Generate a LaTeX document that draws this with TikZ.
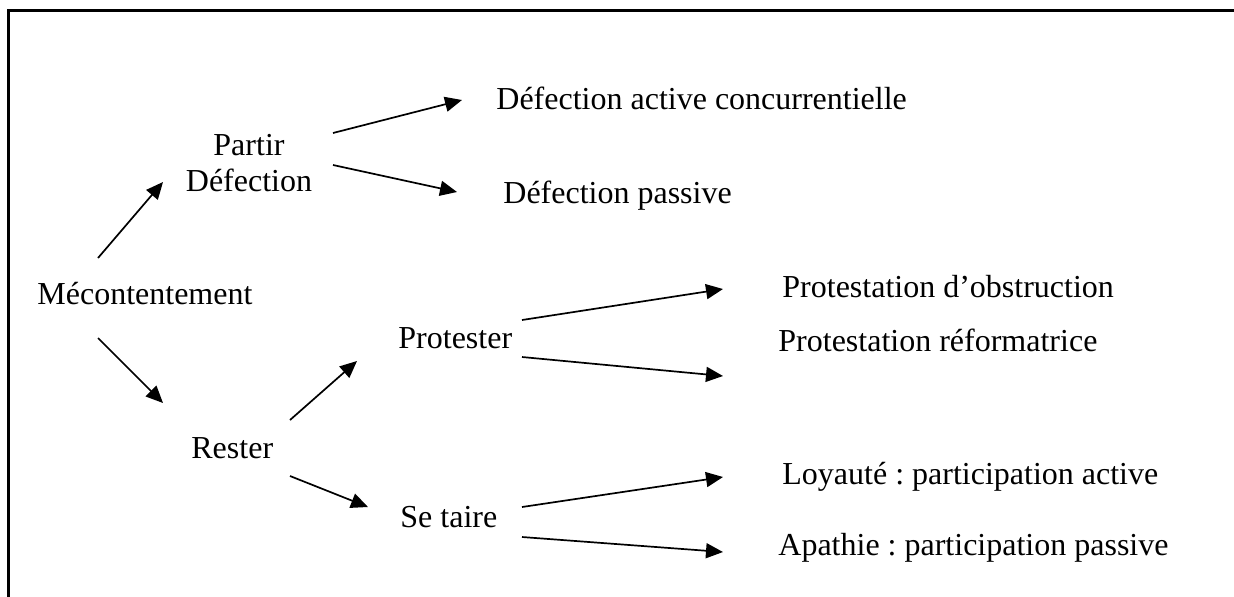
\documentclass[tikz,border=0pt]{standalone}
\usepackage{fontspec}
\setmainfont{Liberation Serif}
\usetikzlibrary{arrows.meta,calc}
\frenchspacing

\begin{document}
\begin{tikzpicture}[
        x=0.5pt, y=-0.5pt,
        lbl/.style={inner sep=0pt, anchor=base west, font=\fontsize{16}{18.4}\selectfont},
        midlbl/.style={inner sep=0pt, align=center, font=\fontsize{16}{18.4}\selectfont},
        arrow/.style={-{Triangle[length=8.5pt,width=7.5pt]}, line width=0.85pt},
        frame/.style={line width=1.5pt}
    ]
        \useasboundingbox (0,0) rectangle (1234,596);
        \draw[frame] (8,10) rectangle (1250,610);

        \node[lbl]    (mec)    at (37,304)  {Mécontentement};
        \node[midlbl] (partir) at (249,163) {Partir \\ Défection};
        \node[lbl]    (defact) at (496,109) {Défection active concurrentielle};
        \node[lbl]    (defpas) at (503,203) {Défection passive};
        \node[lbl]    (rester) at (191,458) {Rester};
        \node[lbl]    (prot)   at (398,348) {Protester};
        \node[lbl]    (taire)  at (400,527) {Se taire};
        \node[lbl]    (obstr)  at (782,297) {Protestation d’obstruction};
        \node[lbl]    (reform) at (778,351) {Protestation réformatrice};
        \node[lbl]    (loyal)  at (782,484) {Loyauté : participation active};
        \node[lbl]    (apath)  at (778,555) {Apathie : participation passive};

        \draw[arrow] ($(mec.base west)+(61,-46)$) -- ($(partir.center)+(-86,19)$);
        \draw[arrow] ($(mec.base west)+(61,34)$) -- ($(rester.base west)+(-28,-55)$);
        \draw[arrow] ($(partir.center)+(84,-30)$) -- ($(defact.base west)+(-34,-9)$);
        \draw[arrow] ($(partir.center)+(84,2)$) -- ($(defpas.base west)+(-46,-11)$);
        \draw[arrow] ($(rester.base west)+(99,-38)$) -- ($(prot.base west)+(-41,13)$);
        \draw[arrow] ($(rester.base west)+(99,18)$) -- ($(taire.base west)+(-32,-20)$);
        \draw[arrow] ($(prot.base west)+(124,-28)$) -- ($(obstr.base west)+(-59,-8)$);
        \draw[arrow] ($(prot.base west)+(124,9)$) -- ($(reform.base west)+(-55,25)$);
        \draw[arrow] ($(taire.base west)+(122,-20)$) -- ($(loyal.base west)+(-59,-7)$);
        \draw[arrow] ($(taire.base west)+(122,10)$) -- ($(apath.base west)+(-55,-3)$);
    \end{tikzpicture}
\end{document}
